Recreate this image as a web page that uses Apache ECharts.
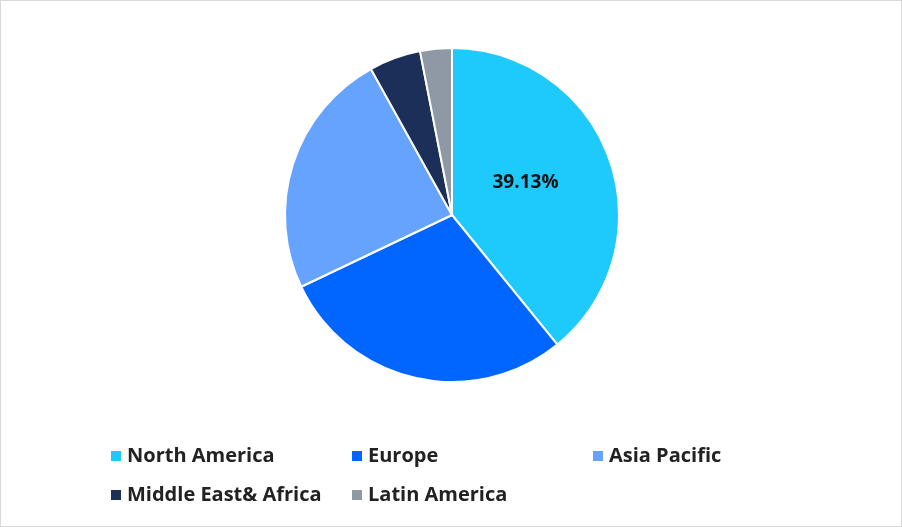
<!doctype html>
<html>
<head>
<meta charset="utf-8">
<script src="https://cdn.jsdelivr.net/npm/echarts@6/dist/echarts.min.js"></script>
<style>body{margin:0}#c{width:900px;height:525px;border:1px solid #d9d9d9}</style>
</head>
<body>
<div id="c"></div>
<script>
var regions = ['North America', 'Europe', 'Asia Pacific', 'Middle East& Africa', 'Latin America'];
var shares = [39.13, 28.8, 24.0, 5.0, 3.07];
var colors = ['#1ec9fc', '#0066ff', '#66a3ff', '#1b2f58', '#8f98a5'];

var chart = echarts.init(document.getElementById('c'));
var legendPos = [[103, 440], [344, 440], [585, 440], [103, 479], [344, 479]];
var legends = regions.map(function (r, i) {
  return {
    data: [r], left: legendPos[i][0], top: legendPos[i][1],
    icon: 'rect', itemWidth: 12, itemHeight: 12, itemGap: 10,
    textStyle: { fontFamily: 'Open Sans', fontWeight: 'bold', fontSize: 20, color: '#222' },
    selectedMode: false
  };
});
chart.setOption({
  animation: false,
  color: colors,
  legend: legends,
  series: [{
    type: 'pie',
    center: [451, 214],
    radius: 167,
    startAngle: 90,
    itemStyle: { borderColor: '#fff', borderWidth: 2 },
    label: { show: false },
    labelLine: { show: false },
    data: regions.map(function (r, i) {
      var d = { name: r, value: shares[i] };
      if (i === 0) d.label = {
        show: true, position: 'inside', formatter: '{c}%', offset: [-8, -3],
        fontFamily: 'Open Sans', fontWeight: 'bold', fontSize: 19, color: '#111'
      };
      return d;
    })
  }]
});
</script>
</body>
</html>
